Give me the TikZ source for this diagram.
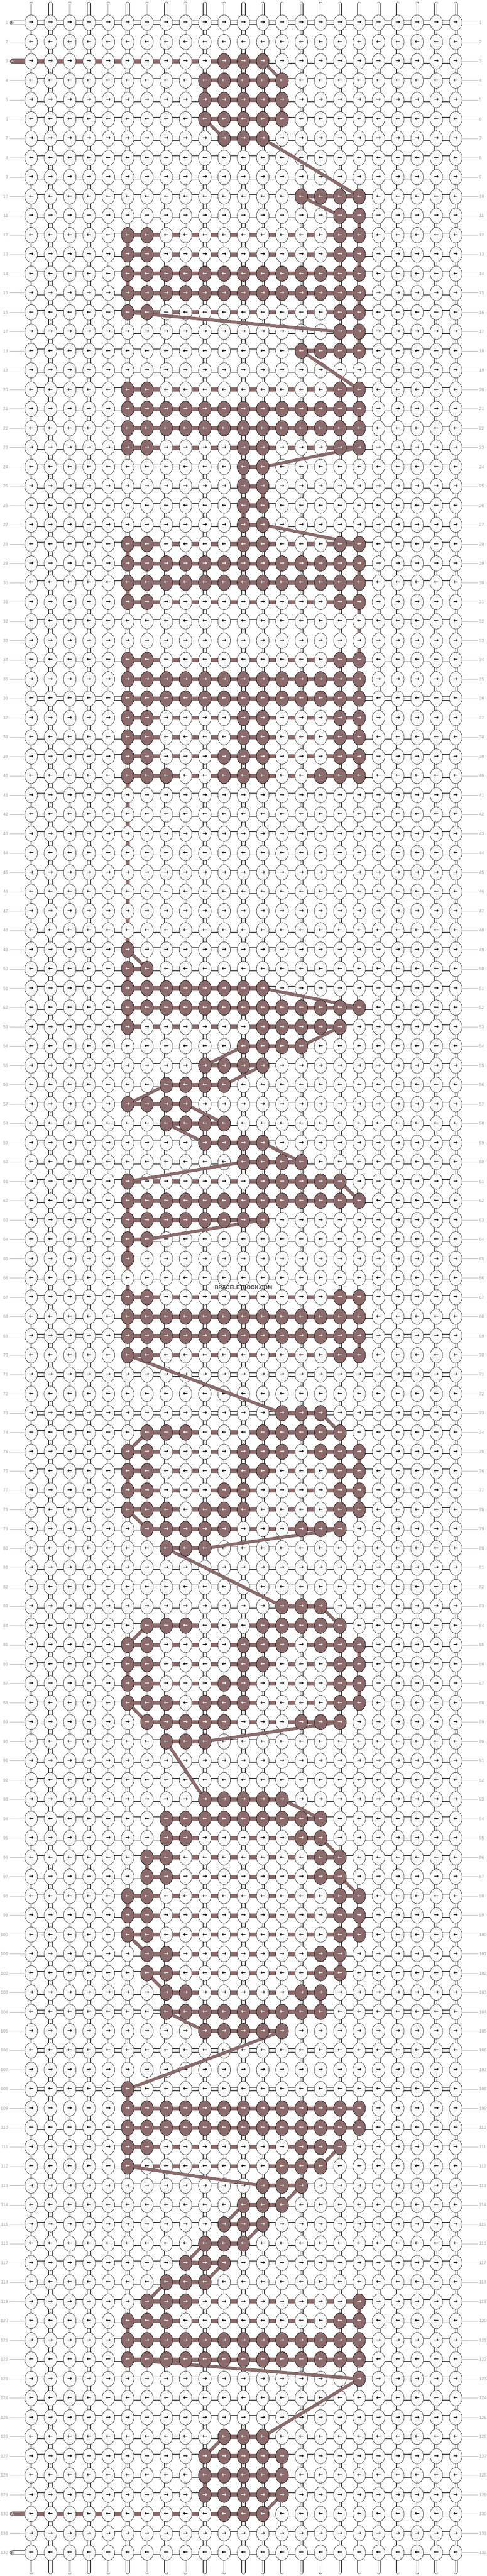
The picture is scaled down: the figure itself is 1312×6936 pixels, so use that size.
\documentclass[tikz,border=0pt]{standalone}
\usepackage{fontspec}
\setmainfont{Liberation Sans}
\newfontfamily\arrowfont{DejaVu Sans}
\usetikzlibrary{shapes.geometric}

\definecolor{abrown}{RGB}{139,107,107}
\definecolor{knotwhite}{RGB}{250,250,250}
\definecolor{numgray}{RGB}{160,160,160}
\definecolor{leadgray}{RGB}{190,190,190}

\tikzset{
  knot/.style={draw=black, line width=0.7pt, fill=knotwhite},
  arrowrow/.style={inner sep=0pt, font=\arrowfont\bfseries\fontsize{15}{15}\selectfont},
  aknot/.style={ellipse, draw=black, line width=0.7pt, fill=abrown, text=white,
    minimum width=34pt, minimum height=42pt, inner sep=0pt,
    font=\arrowfont\bfseries\fontsize{15}{15}\selectfont},
  vstrand/.style={line width=0.7pt, double=knotwhite, double distance=8.6pt, line cap=round},
  vcore/.style={black!30, line width=0.5pt, double=knotwhite, double distance=2pt},
  hstrand/.style={line width=0.7pt, double=knotwhite, double distance=9.6pt},
  astrand/.style={abrown, line width=11pt},
  avert/.style={abrown, line width=10pt},
  adiag/.style={line width=0.6pt, draw=abrown!70!black, double=abrown, double distance=7pt},
  lead/.style={leadgray, line width=0.8pt},
  rownum/.style={text=numgray, inner sep=2pt, font=\fontsize{12}{12}\selectfont},
  pill/.style={draw=black, line width=0.7pt, rounded corners=5.5pt, minimum height=11pt,
    inner ysep=0pt, inner xsep=3pt, text height=7pt, text depth=0pt, text width=40pt,
    align=left, anchor=west, font=\fontsize{10}{10}\selectfont},
  bpill/.style={pill, fill=white, text=black},
  apill/.style={pill, fill=abrown, text=white},
  brand/.style={text=black!75, inner sep=1pt, font=\bfseries\fontsize{14}{14}\selectfont}
}

% row / in / out / knots of thread A
\def\arows{%
3/-1/12/{10,11,12},
4/13/9/{9,...,13},
5/9/13/{9,...,13},
6/13/9/{9,...,13},
7/10/12/{10,11,12},
10/17/14/{14,...,17},
11/16/17/{16,17},
12/17/5/{5,6,16,17},
13/5/17/{5,6,16,17},
14/17/5/{5,...,17},
15/5/17/{5,...,17},
16/17/5/{5,6,16,17},
17/16/17/{16,17},
18/17/14/{14,...,17},
20/17/5/{5,6,16,17},
21/5/17/{5,...,17},
22/17/5/{5,...,17},
23/5/17/{5,6,11,12,16,17},
24/12/11/{11,12},
25/11/12/{11,12},
26/12/11/{11,12},
27/11/12/{11,12},
28/17/5/{5,6,11,12,16,17},
29/5/17/{5,...,17},
30/17/5/{5,...,17},
31/5/17/{5,6,16,17},
32/17/17/{-1},
33/17/17/{-1},
34/17/5/{5,6,16,17},
35/5/17/{5,...,17},
36/17/5/{5,...,17},
37/5/17/{5,6,11,12,16,17},
38/17/5/{5,6,11,12,16,17},
39/5/17/{5,6,10,11,12,16,17},
40/17/5/{5,6,7,10,11,12,15,16,17},
41/5/5/{-1}, 42/5/5/{-1}, 43/5/5/{-1}, 44/5/5/{-1},
45/5/5/{-1}, 46/5/5/{-1}, 47/5/5/{-1}, 48/5/5/{-1},
49/5/5/{5},
50/6/5/{5,6},
51/5/12/{5,...,12},
52/17/5/{5,...,17},
53/5/16/{5,12,13,14,15,16},
54/14/11/{11,...,14},
55/9/12/{9,...,12},
56/10/7/{7,...,10},
57/5/8/{5,...,8},
58/10/7/{7,...,10},
59/9/12/{9,...,12},
60/14/11/{11,...,14},
61/5/16/{5,12,13,14,15,16},
62/17/5/{5,...,17},
63/5/12/{5,...,12},
64/6/5/{5,6},
65/5/5/{5},
66/5/5/{-1},
67/5/17/{5,6,16,17},
68/17/5/{5,...,17},
69/5/17/{5,...,17},
70/17/5/{5,6,16,17},
73/13/15/{13,14,15},
74/16/6/{6,7,8,12,13,14,15,16},
75/5/17/{5,6,11,12,13,15,16,17},
76/17/5/{5,6,11,12,16,17},
77/5/17/{5,6,10,11,16,17},
78/17/5/{5,6,7,9,10,11,16,17},
79/6/16/{6,7,8,9,10,14,15,16},
80/9/7/{7,8,9},
83/13/15/{13,14,15},
84/16/6/{6,7,8,12,13,14,15,16},
85/5/17/{5,6,11,12,13,15,16,17},
86/17/5/{5,6,11,12,16,17},
87/5/17/{5,6,10,11,16,17},
88/17/5/{5,6,7,9,10,11,16,17},
89/6/16/{6,7,8,9,10,14,15,16},
90/9/7/{7,8,9},
93/9/13/{9,...,13},
94/15/7/{7,...,15},
95/7/15/{7,8,14,15},
96/16/6/{6,7,15,16},
97/6/16/{6,7,15,16},
98/17/5/{5,6,16,17},
99/5/17/{5,6,16,17},
100/17/5/{5,6,16,17},
101/6/16/{6,7,15,16},
102/16/6/{6,7,15,16},
103/7/15/{7,8,14,15},
104/15/7/{7,...,15},
105/9/13/{9,...,13},
108/5/5/{5},
109/5/17/{5,...,17},
110/17/5/{5,...,17},
111/5/16/{5,6,14,15,16},
112/15/5/{5,13,14,15},
113/12/14/{12,13,14},
114/13/11/{11,12,13},
115/10/12/{10,11,12},
116/11/9/{9,10,11},
117/8/10/{8,9,10},
118/9/7/{7,8,9},
119/6/17/{6,7,8,17},
120/17/5/{5,6,7,16,17},
121/5/17/{5,...,17},
122/17/5/{5,...,17},
123/17/17/{17},
126/12/10/{10,11,12},
127/9/13/{9,...,13},
128/13/9/{9,...,13},
129/9/13/{9,...,13},
130/12/-1/{10,11,12}}

\begin{document}
\begin{tikzpicture}[x=1pt, y=-1pt]
  \useasboundingbox (0,0) rectangle (1312,6936);

  % vertical strings
  \foreach \i in {0,...,22} {
    \coordinate (top-\i) at ({84+52*\i},10);
    \coordinate (bot-\i) at ({84+52*\i},6926);
    \draw[vstrand] (top-\i) -- (bot-\i);
    \draw[vcore] (top-\i) -- (bot-\i);
  }

  % rows: strand, row numbers
  \foreach \r in {1,...,132} {
    \pgfmathsetmacro\y{61+52*(\r-1)}
    \coordinate (w-\r) at (84,\y);
    \coordinate (e-\r) at (1228,\y);
    \draw[hstrand] (w-\r) -- (e-\r);
    \node[rownum, anchor=east] (ln-\r) at (24,\y) {\r};
    \node[rownum, anchor=west] (rn-\r) at (1289,\y) {\r};
    \draw[lead, shorten <=17.5pt] (e-\r) -- (rn-\r);
  }
  \foreach \r in {2,4,5,...,129,131} {
    \pgfmathsetmacro\y{61+52*(\r-1)}
    \coordinate (la-\r) at (26,\y);
    \draw[lead, shorten >=17.5pt] (la-\r) -- (w-\r);
  }
  \node[bpill] (lead-1) at (27,61) {B};
  \node[apill] (lead-3) at (27,165) {A};
  \node[apill] (lead-130) at (27,6769) {A};
  \node[bpill] (lead-132) at (27,6873) {B};

  % path of thread A
  \gdef\prevr{0}
  \foreach \rowA/\inA/\outA/\knA in \arows {
    \pgfmathsetmacro\y{61+52*(\rowA-1)}
    \ifnum\inA<0 \def\sa{0}\else \edef\sa{\inA}\fi
    \ifnum\outA<0 \def\ea{0}\else \edef\ea{\outA}\fi
    \coordinate (in-\rowA) at ({84+52*\sa},\y);
    \coordinate (out-\rowA) at ({84+52*\ea},\y);
    \draw[astrand] (in-\rowA) -- (out-\rowA);
    \ifnum\prevr>0
      \pgfmathtruncatemacro\nr{\prevr+1}
      \ifnum\nr=\rowA \ifnum\preve=\inA
        \draw[avert] (out-\prevr) -- (in-\rowA);
      \fi\fi
    \fi
    \xdef\prevr{\rowA}\xdef\preve{\outA}
  }

  % knots
  \foreach \r in {1,...,132} {
    \pgfmathsetmacro\y{61+52*(\r-1)}
    \ifodd\r \def\arr{→}\else \def\arr{←}\fi
    \foreach \i in {0,...,22}
      \draw[knot] ({84+52*\i},\y) ellipse [x radius=17pt, y radius=21pt];
    \node[arrowrow] (arr-\r) at (656,\y)
      {\foreach \i in {0,...,22} {\makebox[52pt]{\arr}}};
  }

  % jumps of thread A
  \gdef\prevr{0}
  \foreach \rowA/\inA/\outA/\knA in \arows {
    \ifnum\prevr>0
      \pgfmathtruncatemacro\nr{\prevr+1}
      \def\jn{d}
      \ifnum\nr=\rowA \ifnum\preve=\inA \def\jn{v}\fi\fi
      \if d\jn \draw[adiag] (out-\prevr) -- (in-\rowA);\fi
    \fi
    \xdef\prevr{\rowA}\xdef\preve{\outA}
  }

  \foreach \rowA/\inA/\outA/\knA in \arows {
    \pgfmathsetmacro\y{61+52*(\rowA-1)}
    \ifodd\rowA \def\arr{→}\else \def\arr{←}\fi
    \foreach \c in \knA {
      \ifnum\c>-1 \node[aknot] (a-\rowA-\c) at ({84+52*\c},\y) {\arr};\fi
    }
  }

  \node[brand] (brand) at (656,3467) {BRACELETBOOK.COM};
\end{tikzpicture}
\end{document}
